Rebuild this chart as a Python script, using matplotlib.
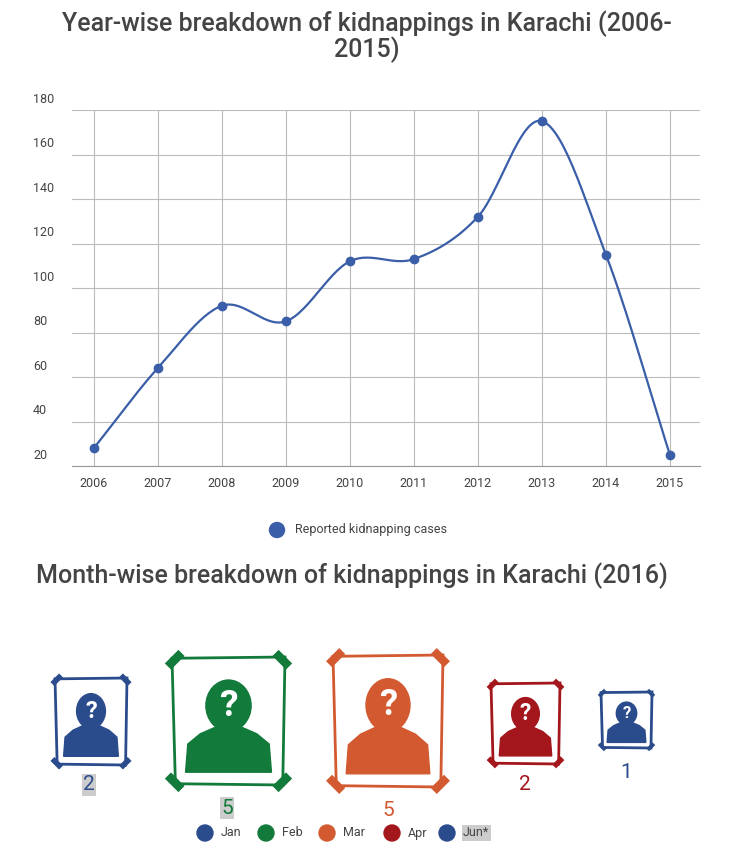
import numpy as np
import matplotlib.pyplot as plt
from matplotlib.patches import Polygon, Ellipse, Circle
from matplotlib.transforms import blended_transform_factory

plt.rcParams['font.family'] = 'Roboto'

# --- data ---
years = [2006, 2007, 2008, 2009, 2010, 2011, 2012, 2013, 2014, 2015]
cases = [28, 64, 92, 85, 112, 113, 132, 175, 115, 25]
y_ticks = [20, 40, 60, 80, 100, 120, 140, 160, 180]

months = ['Jan', 'Feb', 'Mar', 'Apr', 'Jun*']
month_counts = [2, 5, 5, 2, 1]
month_colors = ['#2b4c8c', '#127a3a', '#d35a30', '#a3161c', '#2b4c8c']

W, H = 734, 852
fig = plt.figure(figsize=(W / 100, H / 100), dpi=100)


def catmull(xs, ys, n=30):
    xs, ys = np.asarray(xs, float), np.asarray(ys, float)
    px = np.r_[2 * xs[0] - xs[1], xs, 2 * xs[-1] - xs[-2]]
    py = np.r_[2 * ys[0] - ys[1], ys, 2 * ys[-1] - ys[-2]]
    ox, oy = [], []
    for i in range(1, len(px) - 2):
        t = np.linspace(0, 1, n)
        for p, o in ((px, ox), (py, oy)):
            p0, p1, p2, p3 = p[i - 1:i + 3]
            o.extend(0.5 * (2 * p1 + (-p0 + p2) * t + (2 * p0 - 5 * p1 + 4 * p2 - p3) * t ** 2
                            + (-p0 + 3 * p1 - 3 * p2 + p3) * t ** 3))
    return ox, oy


# --- line chart ---
ax = fig.add_axes([72 / W, 1 - 466 / H, 628 / W, 356 / H])
ax.set_xlim(2005.66, 2015.47)
ax.set_ylim(20, 180)
for s in ['top', 'right', 'left']:
    ax.spines[s].set_visible(False)
ax.spines['bottom'].set_color('#999999')
ax.set_xticks(years)
ax.set_xticklabels([str(y) for y in years], fontsize=9, color='#444444')
ax.tick_params(axis='x', length=0, pad=8)
ax.set_yticks(y_ticks)
ax.set_yticklabels([])
ax.tick_params(axis='y', length=0)
ax.grid(True, color='#bbbbbb', lw=0.8)
tr = blended_transform_factory(fig.transFigure, ax.transData)
for v in y_ticks:
    ax.text(33 / W, v + 1.8, str(v), transform=tr, fontsize=9, color='#444444', va='bottom')
sx, sy = catmull(years, cases)
ax.plot(sx, sy, color='#3a5ea8', lw=1.6, zorder=3)
ax.plot(years, cases, 'o', color='#3a5ea8', ms=6, zorder=4, clip_on=False)

fig.text(0.5, 1 - 24 / H, 'Year-wise breakdown of kidnappings in Karachi (2006-', ha='center',
         va='center', fontsize=18, fontweight='medium', color='#444444')
fig.text(0.5, 1 - 50 / H, '2015)', ha='center', va='center', fontsize=18,
         fontweight='medium', color='#444444')
fig.text(352 / W, 1 - 576 / H, 'Month-wise breakdown of kidnappings in Karachi (2016)',
         ha='center', va='center', fontsize=18, fontweight='medium', color='#444444')

# --- icons ---
bx = fig.add_axes([0, 0, 1, 1])
bx.set_xlim(0, W)
bx.set_ylim(H, 0)
bx.axis('off')

# legend 1
bx.add_patch(Circle((277, 530), 7.5, color='#3a5ea8'))
bx.text(295, 530, 'Reported kidnapping cases', va='center', fontsize=9, color='#444444')

icons = [(55, 678, 127, 765, 89, 785), (172, 657, 285, 785, 227, 808),
         (333, 655, 443, 787, 388, 810), (491, 683, 560, 764, 525, 784),
         (601, 692, 652, 748, 626, 773)]
for (x0, y0, x1, y1, lx, ly), c, n in zip(icons, month_colors, month_counts):
    w, h = x1 - x0, y1 - y0
    frame = Polygon([(x0, y0 + 0.01 * h), (x1, y0), (x1 - 0.02 * w, y1), (x0 + 0.03 * w, y1 - 0.01 * h)],
                    closed=True, fill=False, ec=c, lw=2)
    bx.add_patch(frame)
    t = 0.12 * w
    for (cx, cy, dx, dy) in [(x0, y0, 1, 1), (x1, y0, -1, 1), (x1, y1, -1, -1), (x0, y1, 1, -1)]:
        bx.plot([cx - dx * t * 0.3, cx + dx * t * 0.7], [cy + dy * t * 0.7, cy - dy * t * 0.3],
                color=c, lw=max(2, w / 18), solid_capstyle='butt')
    mx = (x0 + x1) / 2
    sh = [(x0 + 0.12 * w, y1 - 0.1 * h), (x0 + 0.14 * w, y0 + 0.68 * h), (x0 + 0.25 * w, y0 + 0.6 * h),
          (mx - 0.12 * w, y0 + 0.55 * h), (mx + 0.12 * w, y0 + 0.55 * h), (x1 - 0.25 * w, y0 + 0.6 * h),
          (x1 - 0.14 * w, y0 + 0.68 * h), (x1 - 0.12 * w, y1 - 0.1 * h)]
    bx.add_patch(Polygon(sh, closed=True, color=c))
    bx.add_patch(Ellipse((mx, y0 + 0.38 * h), 0.4 * w, 0.4 * h, color=c))
    bx.text(mx, y0 + 0.38 * h, '?', color='white', ha='center', va='center',
            fontsize=w / 4.2, fontweight='bold')
    bg = dict(boxstyle='square,pad=0.05', fc='#cccccc', ec='none') if n != 1 and c in ('#2b4c8c', '#127a3a') else None
    bx.text(lx, ly, str(n), color=c, ha='center', va='center', fontsize=15, bbox=bg)

# legend 2
lxs = [205, 266, 327, 392, 447]
for x, m, c in zip(lxs, months, month_colors):
    bx.add_patch(Circle((x, 833), 8, color=c))
    bx.text(x + 16, 833, m, va='center', fontsize=9, color='#444444',
            bbox=dict(boxstyle='square,pad=0.1', fc='#cccccc', ec='none') if m == 'Jun*' else None)

fig.savefig('out.png', dpi=100)
